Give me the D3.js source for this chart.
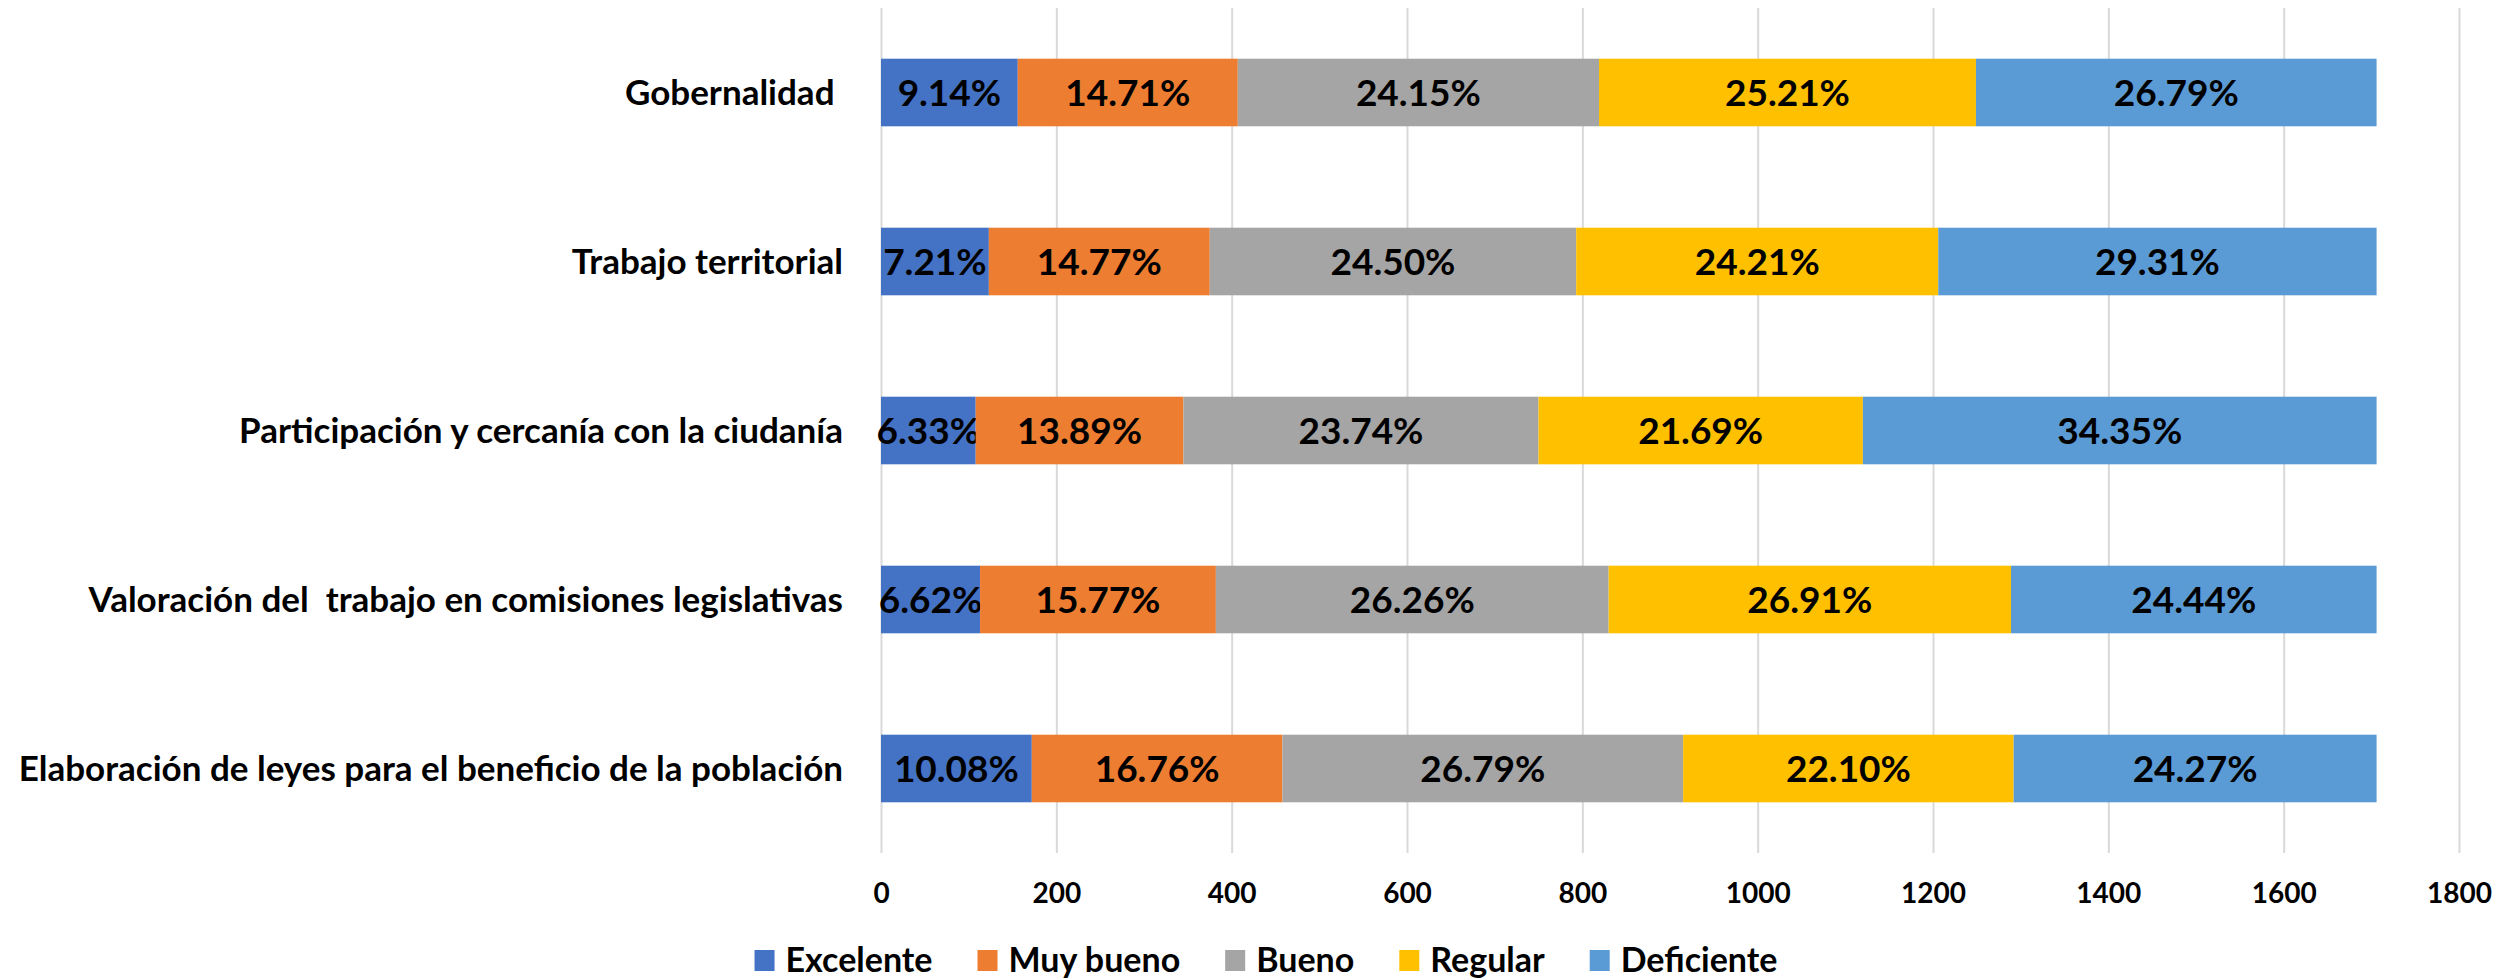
<!DOCTYPE html>
<html>
<head>
<meta charset="utf-8">
<script src="https://cdn.jsdelivr.net/npm/d3@7"></script>
<style>
  body { margin: 0; background: #fff; }
  svg text { font-family: Lato, "Open Sans", sans-serif; font-weight: 700; }
</style>
</head>
<body>
<script>
// categories, top to bottom
var categories = [
    "Gobernalidad ",
    "Trabajo territorial",
    "Participación y cercanía con la ciudanía",
    "Valoración del  trabajo en comisiones legislativas",
    "Elaboración de leyes para el beneficio de la población"
];
var seriesNames = ["Excelente", "Muy bueno", "Bueno", "Regular", "Deficiente"];
var seriesColors = ["#4472C4", "#ED7D31", "#A5A5A5", "#FFC000", "#5B9BD5"];

var excelente  = [156, 123, 108, 113, 172];
var muyBueno   = [251, 252, 237, 269, 286];
var bueno      = [412, 418, 405, 448, 457];
var regular    = [430, 413, 370, 459, 377];
var deficiente = [457, 500, 586, 417, 414];

var tickValues = [0, 200, 400, 600, 800, 1000, 1200, 1400, 1600, 1800];

var width = 2501, height = 978;

var rows = categories.map(function (c, i) {
    return {
        name: c,
        "Excelente": excelente[i],
        "Muy bueno": muyBueno[i],
        "Bueno": bueno[i],
        "Regular": regular[i],
        "Deficiente": deficiente[i]
    };
});
rows.forEach(function (d) {
    d.total = d3.sum(seriesNames, function (k) { return d[k]; });
});

var x = d3.scaleLinear().domain([0, 1800]).range([881, 2459]);
var y = d3.scaleBand().domain(categories).range([8, 853]).paddingInner(0.6).paddingOuter(0.3);
var color = d3.scaleOrdinal().domain(seriesNames).range(seriesColors);
var pct = d3.format(".2%");

var svg = d3.select("body").append("svg")
    .attr("width", width)
    .attr("height", height);

// gridlines
var grid = svg.append("g")
    .attr("transform", "translate(0,853)")
    .call(d3.axisBottom(x).tickValues(tickValues).tickSize(-845).tickFormat(""));
grid.select(".domain").remove();
grid.selectAll("line").attr("stroke", "#d9d9d9").attr("stroke-width", 2);

// tick labels
var xAxis = svg.append("g")
    .attr("transform", "translate(0,880)")
    .call(d3.axisBottom(x).tickValues(tickValues).tickSize(0).tickFormat(d3.format("d")));
xAxis.select(".domain").remove();
xAxis.selectAll("text")
    .attr("fill", "#000")
    .style("font-size", "28px");

// stacked bars
var series = d3.stack().keys(seriesNames)(rows);

var layer = svg.append("g").selectAll("g")
    .data(series)
    .enter().append("g")
    .attr("fill", function (d) { return color(d.key); });

layer.selectAll("rect")
    .data(function (d) { return d; })
    .enter().append("rect")
    .attr("x", function (d) { return x(d[0]); })
    .attr("y", function (d) { return y(d.data.name); })
    .attr("width", function (d) { return x(d[1]) - x(d[0]); })
    .attr("height", y.bandwidth());

// data labels
layer.selectAll("text")
    .data(function (d) { return d; })
    .enter().append("text")
    .attr("x", function (d) { return (x(d[0]) + x(d[1])) / 2; })
    .attr("y", function (d) { return y(d.data.name) + y.bandwidth() / 2; })
    .attr("dy", "0.36em")
    .attr("text-anchor", "middle")
    .attr("fill", "#000")
    .style("font-size", "37px")
    .text(function (d) { return pct((d[1] - d[0]) / d.data.total); });

// category labels
svg.append("g").selectAll("text")
    .data(categories)
    .enter().append("text")
    .attr("x", 843)
    .attr("y", function (d) { return y(d) + y.bandwidth() / 2; })
    .attr("dy", "0.36em")
    .attr("text-anchor", "end")
    .attr("fill", "#000")
    .style("font-size", "35px")
    .style("white-space", "pre")
    .text(function (d) { return d; });

// legend
var legend = svg.append("g").attr("transform", "translate(0,960)");
var items = legend.selectAll("g")
    .data(seriesNames)
    .enter().append("g");

items.append("rect")
    .attr("x", 0)
    .attr("y", -10)
    .attr("width", 20)
    .attr("height", 21)
    .attr("fill", function (d) { return color(d); });

items.append("text")
    .attr("x", 31)
    .attr("dy", "0.36em")
    .attr("fill", "#000")
    .style("font-size", "34px")
    .text(function (d) { return d; });

var offsets = [], pos = 0;
items.each(function () {
    offsets.push(pos);
    pos += 31 + this.querySelector("text").getComputedTextLength() + 45;
});
var legendWidth = pos - 45;
var legendStart = 1266 - legendWidth / 2;
items.attr("transform", function (d, i) { return "translate(" + (legendStart + offsets[i]) + ",0)"; });
</script>
</body>
</html>
